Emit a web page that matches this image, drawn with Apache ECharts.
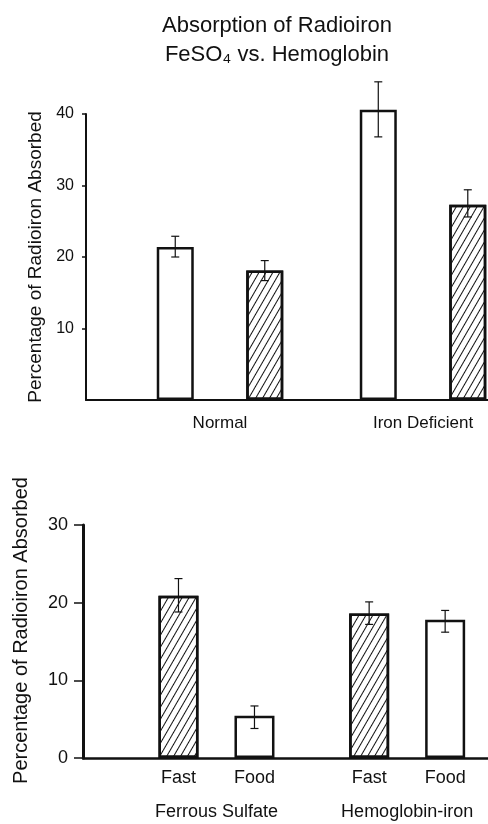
<!DOCTYPE html>
<html>
<head>
<meta charset="utf-8">
<script src="https://cdn.jsdelivr.net/npm/echarts@6/dist/echarts.min.js"></script>
<style>
html,body{margin:0;padding:0;background:#fff;}
#chart{width:488px;height:824px;}
</style>
</head>
<body>
<div id="chart"></div>
<script>
// ---- Data ----
const titleLines = ['Absorption of Radioiron', 'FeSO₄ vs. Hemoglobin'];
const yAxisName = 'Percentage of Radioiron Absorbed';

// Top panel
const topCategories = ['Normal', 'Iron Deficient'];
const topTicks = [10, 20, 30, 40];
const topFeSO4 = [21.4, 40.6];
const topFeSO4Err = [[20.0, 22.9], [36.8, 44.5]];
const topHemo = [18.1, 27.3];
const topHemoErr = [[16.7, 19.5], [25.6, 29.4]];

// Bottom panel
const bottomCategories = ['Ferrous Sulfate', 'Hemoglobin-iron'];
const bottomTicks = [0, 10, 20, 30];
const bottomFast = [20.9, 18.6];
const bottomFastErr = [[18.8, 23.1], [17.2, 20.1]];
const bottomFood = [5.45, 17.8];
const bottomFoodErr = [[3.8, 6.7], [16.2, 19.0]];

// ---- Styling ----
const FONT = '"Liberation Sans", Arial, Helvetica, sans-serif';
const INK = '#111';
const hatch = {
  symbol: 'rect', symbolSize: 1, color: INK,
  dashArrayX: [1, 0], dashArrayY: [1, 4.5], rotation: -Math.PI / 3
};

const TOP_BAR_W = 37, TOP_GAP = 52.5;
const BOT_BAR_W = 40, BOT_GAP = 36;

function pairs(vals) { return vals.map((v, i) => [i, v]); }
function errData(errs) { return errs.map((e, i) => [i, e[0], e[1]]); }

function errorSeries(errs, xi, offset) {
  return {
    type: 'custom', xAxisIndex: xi, yAxisIndex: xi, clip: false, z: 10,
    data: errData(errs),
    renderItem: function (params, api) {
      const x = api.value(0);
      const lo = api.coord([x, api.value(1)]);
      const hi = api.coord([x, api.value(2)]);
      const cx = lo[0] + offset;
      const cap = 4;
      const st = { stroke: INK, lineWidth: 1.2 };
      return {
        type: 'group',
        children: [
          { type: 'line', shape: { x1: cx, y1: lo[1], x2: cx, y2: hi[1] }, style: st },
          { type: 'line', shape: { x1: cx - cap, y1: lo[1], x2: cx + cap, y2: lo[1] }, style: st },
          { type: 'line', shape: { x1: cx - cap, y1: hi[1], x2: cx + cap, y2: hi[1] }, style: st }
        ]
      };
    }
  };
}

const barStyle = { color: '#fff', borderColor: INK, borderWidth: 2.5 };

const topOff = (TOP_BAR_W + TOP_GAP) / 2;
const botOff = (BOT_BAR_W + BOT_GAP) / 2;

const option = {
  animation: false,
  backgroundColor: '#fff',
  title: {
    text: titleLines.join('\n'),
    left: 272, top: 6, textAlign: 'center',
    textStyle: { fontFamily: FONT, fontSize: 22, fontWeight: 'normal', color: INK, lineHeight: 29 }
  },
  grid: [
    { left: 86, right: 0, top: 114, bottom: 424, containLabel: false },
    { left: 83, right: 0, top: 525, bottom: 66, containLabel: false }
  ],
  xAxis: [
    {
      type: 'value', gridIndex: 0, min: -0.66, max: 1.32,
      axisLine: { show: true, lineStyle: { color: INK, width: 2 } },
      axisTick: { show: false }, splitLine: { show: false },
      axisLabel: {
        customValues: [0, 1], margin: 15,
        formatter: v => topCategories[Math.round(v)],
        fontFamily: FONT, fontSize: 17, color: INK
      }
    },
    {
      type: 'value', gridIndex: 1, min: -0.70, max: 1.424,
      axisLine: { show: true, lineStyle: { color: INK, width: 2.5 } },
      axisTick: { show: false }, splitLine: { show: false },
      axisLabel: {
        customValues: [0, 1], margin: 45,
        formatter: v => bottomCategories[Math.round(v)],
        fontFamily: FONT, fontSize: 18, color: INK
      }
    }
  ],
  yAxis: [
    {
      type: 'value', gridIndex: 0, min: 0, max: 40, interval: 10,
      name: yAxisName, nameLocation: 'middle', nameGap: 38, nameRotate: 90,
      nameTextStyle: { fontFamily: FONT, fontSize: 19, color: INK },
      axisLine: { show: true, onZero: false, lineStyle: { color: INK, width: 2 } },
      axisTick: { show: true, length: 4, lineStyle: { color: INK, width: 1.5 }, customValues: topTicks },
      axisLabel: { customValues: topTicks, margin: 12, fontFamily: FONT, fontSize: 16, color: INK },
      splitLine: { show: false }
    },
    {
      type: 'value', gridIndex: 1, min: 0, max: 30, interval: 10,
      name: yAxisName, nameLocation: 'middle', nameGap: 52, nameRotate: 90,
      nameTextStyle: { fontFamily: FONT, fontSize: 20, color: INK, padding: [0, 0, 0, 22] },
      axisLine: { show: true, onZero: false, lineStyle: { color: INK, width: 3 } },
      axisTick: { show: true, length: 9, lineStyle: { color: INK, width: 1.5 }, customValues: bottomTicks },
      axisLabel: { customValues: bottomTicks, margin: 15, fontFamily: FONT, fontSize: 18, color: INK },
      splitLine: { show: false }
    }
  ],
  series: [
    {
      name: 'FeSO₄', type: 'bar', xAxisIndex: 0, yAxisIndex: 0, clip: false,
      barWidth: TOP_BAR_W, barGap: (TOP_GAP / TOP_BAR_W * 100) + '%',
      data: pairs(topFeSO4), itemStyle: barStyle
    },
    {
      name: 'Hemoglobin', type: 'bar', xAxisIndex: 0, yAxisIndex: 0, clip: false,
      barWidth: TOP_BAR_W, barGap: (TOP_GAP / TOP_BAR_W * 100) + '%',
      data: pairs(topHemo), itemStyle: Object.assign({ decal: hatch }, barStyle)
    },
    errorSeries(topFeSO4Err, 0, -topOff),
    errorSeries(topHemoErr, 0, topOff),
    {
      name: 'Fast', type: 'bar', xAxisIndex: 1, yAxisIndex: 1, clip: false,
      barWidth: BOT_BAR_W, barGap: (BOT_GAP / BOT_BAR_W * 100) + '%',
      data: pairs(bottomFast), itemStyle: Object.assign({ decal: hatch }, barStyle),
      label: { show: true, position: 'bottom', distance: 11, formatter: '{a}', fontFamily: FONT, fontSize: 18, color: INK }
    },
    {
      name: 'Food', type: 'bar', xAxisIndex: 1, yAxisIndex: 1, clip: false,
      barWidth: BOT_BAR_W, barGap: (BOT_GAP / BOT_BAR_W * 100) + '%',
      data: pairs(bottomFood), itemStyle: barStyle,
      label: { show: true, position: 'bottom', distance: 11, formatter: '{a}', fontFamily: FONT, fontSize: 18, color: INK }
    },
    errorSeries(bottomFastErr, 1, -botOff),
    errorSeries(bottomFoodErr, 1, botOff)
  ]
};

const chart = echarts.init(document.getElementById('chart'), null, { renderer: 'canvas' });
chart.setOption(option);
</script>
</body>
</html>
